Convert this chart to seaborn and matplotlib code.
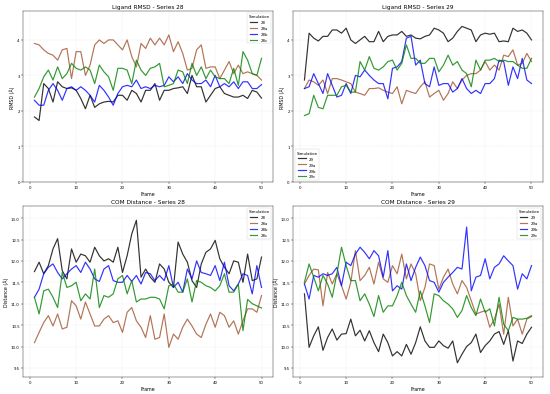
import numpy as np
import pandas as pd
import matplotlib
matplotlib.use("Agg")
import matplotlib.pyplot as plt
import seaborn as sns

frames = list(range(1, 51))

# ligand RMSD (Å), series 28
rmsd_28 = [1.83, 1.73, 2.77, 2.63, 2.25, 2.82, 2.68, 2.63, 2.65, 2.58,
           2.35, 2.06, 2.44, 2.10, 2.20, 2.25, 2.27, 2.25, 2.44, 2.44,
           2.30, 2.58, 2.49, 2.25, 2.58, 2.58, 2.77, 2.30, 2.58, 2.58,
           2.63, 2.65, 2.68, 2.49, 3.00, 2.68, 2.68, 2.25, 2.44, 2.63,
           2.68, 2.49, 2.44, 2.39, 2.39, 2.44, 2.35, 2.58, 2.53, 2.36]
rmsd_28a = [3.90, 3.86, 3.72, 3.62, 3.57, 3.43, 3.72, 3.76, 2.91, 3.67,
            3.67, 3.00, 3.29, 3.86, 4.00, 3.90, 4.00, 4.00, 3.86, 3.72,
            4.00, 3.53, 3.24, 3.90, 3.76, 4.05, 3.86, 4.05, 3.86, 4.14,
            3.67, 3.95, 3.62, 3.15, 3.20, 3.72, 3.86, 3.20, 3.24, 3.24,
            2.91, 3.15, 3.39, 3.05, 3.29, 3.05, 3.10, 3.05, 3.00, 2.87]
rmsd_28b = [2.30, 2.16, 2.16, 2.58, 2.77, 2.58, 2.30, 2.63, 2.68, 2.58,
            2.68, 2.58, 2.44, 2.25, 2.72, 2.58, 2.39, 2.16, 2.49, 2.68,
            2.72, 2.68, 2.87, 2.63, 2.68, 2.63, 2.72, 2.68, 2.72, 2.96,
            2.82, 2.96, 2.77, 3.05, 2.87, 2.77, 2.77, 2.87, 2.68, 3.00,
            2.68, 2.77, 2.68, 2.82, 2.63, 2.82, 2.82, 2.63, 2.63, 2.74]
rmsd_28c = [2.39, 2.63, 2.96, 3.15, 2.87, 3.24, 2.91, 3.05, 3.34, 3.20,
            3.15, 3.24, 3.15, 2.77, 3.29, 3.10, 2.96, 2.58, 3.20, 3.20,
            3.15, 2.77, 3.43, 3.15, 3.00, 3.20, 3.24, 3.34, 2.68, 2.72,
            2.77, 3.15, 3.10, 2.77, 3.34, 3.00, 3.24, 2.91, 3.15, 2.96,
            2.91, 2.91, 2.77, 3.20, 2.72, 3.67, 3.43, 3.05, 3.00, 3.48]

# ligand RMSD (Å), series 29
rmsd_29 = [2.87, 4.19, 4.05, 3.97, 4.10, 4.10, 4.28, 4.28, 4.19, 4.33,
           4.00, 3.90, 4.00, 4.10, 3.95, 3.95, 4.24, 3.95, 4.10, 4.14,
           4.14, 4.24, 4.10, 4.14, 4.05, 4.03, 4.10, 4.14, 4.33, 4.28,
           4.19, 3.95, 4.05, 4.24, 4.38, 4.33, 4.28, 3.95, 4.14, 4.19,
           4.16, 4.19, 3.95, 3.97, 3.95, 4.33, 4.24, 4.28, 4.19, 4.00]
rmsd_29a = [2.63, 2.87, 2.82, 2.72, 2.87, 2.49, 2.91, 2.91, 2.87, 2.82,
            2.77, 2.53, 2.49, 2.44, 2.63, 2.63, 2.65, 2.58, 2.53, 2.49,
            2.68, 2.20, 2.58, 2.53, 2.49, 2.68, 2.82, 2.39, 2.49, 2.58,
            2.30, 2.49, 2.82, 2.63, 2.87, 3.00, 3.05, 3.05, 3.15, 3.39,
            3.15, 3.29, 3.15, 3.57, 3.53, 3.72, 3.29, 3.34, 3.62, 3.39]
rmsd_29b = [2.63, 2.68, 3.05, 2.77, 2.49, 3.05, 2.72, 2.39, 2.44, 2.77,
            2.49, 3.00, 2.96, 3.15, 3.00, 2.87, 2.77, 2.77, 2.34, 3.20,
            3.24, 3.39, 4.05, 4.10, 3.29, 3.43, 2.77, 2.68, 3.24, 2.72,
            2.77, 2.77, 2.53, 2.63, 2.91, 2.63, 2.49, 2.58, 2.49, 2.77,
            2.77, 2.91, 3.43, 3.39, 2.72, 3.24, 2.91, 3.48, 2.87, 2.77]
rmsd_29c = [1.87, 1.92, 2.44, 2.10, 2.06, 2.44, 2.44, 2.44, 2.68, 2.72,
            2.53, 2.53, 3.39, 3.15, 3.53, 3.20, 3.15, 3.24, 3.39, 3.43,
            3.15, 3.34, 3.86, 3.48, 3.48, 3.34, 3.34, 3.48, 3.48, 3.10,
            3.29, 3.57, 3.29, 3.39, 3.15, 3.05, 2.68, 3.43, 3.15, 3.43,
            3.43, 3.48, 3.39, 3.43, 3.39, 3.39, 3.29, 3.20, 3.20, 3.48]

# COM distance (Å), series 28
com_28 = [11.75, 11.97, 11.70, 11.89, 12.28, 12.52, 11.77, 11.58, 12.28, 11.97,
          12.16, 12.12, 11.97, 12.32, 12.12, 12.00, 12.05, 11.97, 12.32, 11.73,
          12.12, 12.63, 12.95, 11.62, 11.81, 11.62, 11.50, 11.93, 11.81, 11.50,
          11.38, 12.44, 12.16, 11.97, 11.54, 11.38, 11.93, 12.20, 12.28, 12.48,
          12.05, 11.85, 11.70, 12.00, 11.97, 11.50, 12.16, 11.54, 11.58, 12.09]
com_28a = [10.09, 10.33, 10.56, 10.72, 10.48, 10.76, 10.41, 10.45, 11.07, 10.95,
           10.64, 11.04, 10.76, 10.48, 10.48, 10.64, 10.72, 10.56, 10.60, 10.33,
           10.80, 10.91, 10.60, 10.45, 10.21, 10.72, 10.17, 10.21, 10.76, 9.98,
           10.29, 10.17, 10.45, 10.64, 10.48, 10.29, 10.21, 10.52, 10.76, 10.45,
           10.80, 10.72, 10.45, 10.60, 10.29, 10.60, 10.88, 10.88, 10.80, 11.19]
com_28b = [11.15, 11.34, 11.70, 11.85, 11.93, 11.73, 11.58, 11.70, 11.81, 11.89,
           11.73, 11.97, 11.81, 11.58, 11.52, 11.81, 11.89, 11.54, 11.50, 11.50,
           11.66, 11.52, 11.66, 11.46, 11.73, 11.70, 11.54, 11.66, 11.54, 11.89,
           11.38, 11.50, 11.27, 11.81, 11.58, 12.00, 11.73, 11.70, 11.66, 11.89,
           11.54, 11.97, 11.42, 11.30, 11.46, 11.70, 11.66, 11.23, 11.89, 11.38]
com_28c = [11.15, 10.76, 11.30, 11.34, 11.15, 10.91, 11.73, 11.38, 11.42, 11.50,
           11.07, 11.23, 11.11, 11.81, 10.91, 11.19, 11.15, 11.23, 11.58, 11.66,
           11.23, 11.54, 11.04, 11.11, 11.11, 11.15, 11.15, 11.11, 10.88, 11.42,
           11.46, 11.27, 11.27, 11.58, 11.04, 11.54, 11.50, 11.42, 11.38, 11.30,
           11.42, 11.70, 11.27, 11.27, 11.46, 10.37, 11.10, 11.00, 10.95, 10.90]

# COM distance (Å), series 29
com_29 = [11.23, 9.98, 10.25, 10.46, 9.91, 10.21, 10.41, 10.15, 10.29, 10.30,
          10.64, 10.25, 10.38, 10.13, 10.37, 10.09, 9.88, 10.29, 10.09, 9.78,
          9.88, 9.78, 10.05, 9.82, 10.09, 10.46, 10.13, 9.98, 9.98, 10.13,
          10.02, 9.96, 10.13, 9.62, 9.82, 10.00, 10.09, 10.29, 9.86, 10.02,
          10.13, 10.29, 10.35, 10.05, 10.37, 9.66, 10.13, 10.07, 10.29, 10.45]
com_29a = [11.46, 11.66, 11.81, 11.79, 10.95, 11.73, 11.46, 11.70, 11.42, 11.11,
           11.50, 12.24, 11.54, 11.66, 11.85, 11.46, 11.97, 11.58, 11.50, 11.89,
           11.70, 12.16, 11.58, 11.93, 11.70, 11.07, 11.38, 11.93, 11.89, 11.34,
           11.62, 11.81, 11.46, 11.23, 11.54, 11.38, 11.07, 10.76, 10.80, 10.84,
           10.45, 10.64, 10.99, 10.29, 11.15, 10.48, 10.64, 10.29, 10.64, 10.70]
com_29b = [11.46, 11.11, 11.66, 11.62, 11.70, 11.66, 11.70, 11.85, 11.42, 11.97,
           11.89, 12.16, 12.32, 12.20, 12.05, 12.24, 12.12, 11.62, 12.24, 11.30,
           11.42, 11.34, 11.93, 11.54, 11.85, 12.09, 11.89, 11.54, 11.50, 11.27,
           11.50, 11.62, 11.73, 11.85, 11.81, 12.79, 11.30, 11.62, 11.66, 12.05,
           11.58, 11.85, 11.93, 12.12, 12.00, 11.89, 11.34, 11.70, 11.58, 11.89]
com_29c = [11.50, 11.93, 11.62, 11.30, 11.66, 11.46, 11.15, 11.70, 12.32, 11.89,
           11.54, 11.54, 11.07, 11.23, 10.99, 10.70, 11.19, 10.80, 10.95, 10.95,
           11.19, 11.50, 11.19, 10.99, 10.80, 11.30, 10.95, 10.56, 11.23, 11.19,
           11.07, 10.99, 10.88, 10.68, 10.84, 11.19, 10.91, 10.72, 11.11, 10.80,
           10.88, 10.48, 11.15, 10.52, 10.37, 10.68, 10.64, 10.64, 10.66, 10.72]

colors = ["black", "sienna", "blue", "green"]


def to_long(series: dict) -> pd.DataFrame:
    rows = []
    for name, vals in series.items():
        rows.append(pd.DataFrame({"Frame": frames, "value": vals, "Simulation": name}))
    return pd.concat(rows, ignore_index=True)


panels = [
    ("Ligand RMSD - Series 28", "RMSD (Å)",
     {"28": rmsd_28, "28a": rmsd_28a, "28b": rmsd_28b, "28c": rmsd_28c}, "upper right"),
    ("Ligand RMSD - Series 29", "RMSD (Å)",
     {"29": rmsd_29, "29a": rmsd_29a, "29b": rmsd_29b, "29c": rmsd_29c}, "lower left"),
    ("COM Distance - Series 28", "Distance (Å)",
     {"28": com_28, "28a": com_28a, "28b": com_28b, "28c": com_28c}, "upper right"),
    ("COM Distance - Series 29", "Distance (Å)",
     {"29": com_29, "29a": com_29a, "29b": com_29b, "29c": com_29c}, "upper right"),
]

rmsd_max = max(max(v) for v in [rmsd_28, rmsd_28a, rmsd_28b, rmsd_28c,
                                rmsd_29, rmsd_29a, rmsd_29b, rmsd_29c])
com_all = com_28 + com_28a + com_28b + com_28c + com_29 + com_29a + com_29b + com_29c
com_lo, com_hi = min(com_all), max(com_all)
com_pad = 0.1 * (com_hi - com_lo)

fig, axes = plt.subplots(2, 2, figsize=(16, 11.49), dpi=34.375)

for ax, (title, ylabel, series, loc) in zip(axes.flat, panels):
    df = to_long(series)
    sns.lineplot(data=df, x="Frame", y="value", hue="Simulation",
                 palette=colors, linewidth=2.5, alpha=0.8, ax=ax)
    ax.set_title(title, fontsize=12)
    ax.set_xlabel("Frame", fontsize=10)
    ax.set_ylabel(ylabel, fontsize=10)
    ax.tick_params(labelsize=8)
    ax.grid(True, linestyle="--", alpha=0.3)
    if "RMSD" in title:
        ax.set_ylim(0, rmsd_max * 1.1)
    else:
        ax.set_ylim(com_lo - com_pad, com_hi + com_pad)
    ax.legend(title="Simulation", loc=loc, fontsize=8, title_fontsize=8)

fig.subplots_adjust(left=0.042, right=0.987, bottom=0.043, top=0.970,
                    wspace=0.081, hspace=0.141)
fig.savefig("out.png", dpi=34.375)
